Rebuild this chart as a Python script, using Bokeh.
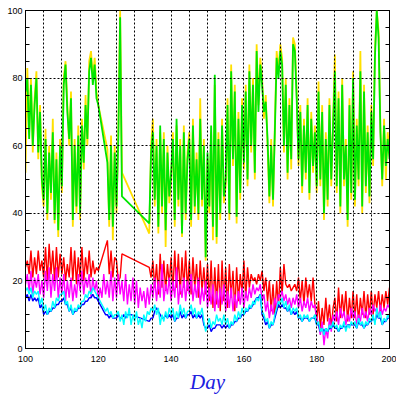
from bokeh.plotting import figure
from bokeh.models import Range1d, SingleIntervalTicker, LinearAxis
from bokeh.embed import file_html
from bokeh.resources import INLINE

N = None
day_start = 100
day_step = 0.5

green = [
    76, 80, 62, 78, 60, 72, 80, 58, 70, 50,
    44, 62, 40, 58, 46, 64, 38, 56, 35, 60,
    48, 78, 84, 70, 62, 74, 38, 60, 42, 63,
    40, 66, 55, 72, 62, 82, 86, 78, 84, 74,
    72, N, N, N, N, 55, 38, 60, 36, 58,
    42, 62, 98, 45, N, N, N, N, N, N,
    N, N, N, N, N, N, N, N, 37, 58,
    64, 44, 60, 36, 66, 42, 62, 35, 58, 45,
    52, 62, 38, 68, 44, 60, 34, 64, 40, 56,
    62, 38, 66, 42, 56, 40, 68, 44, 60, 27,
    58, 42, 66, 36, 81, 33, 62, 40, 66, 45,
    50, 72, 40, 82, 56, 76, 39, 68, 46, 72,
    55, 76, 50, 82, 60, 78, 52, 88, 70, 84,
    78, 70, 73, 62, 45, 60, 44, 64, 86, 80,
    88, 84, 60, 78, 52, 72, 56, 90, 88, 74,
    56, 70, 48, 66, 52, 72, 46, 68, 54, 64,
    48, 76, 50, 70, 40, 62, 44, 72, 50, 66,
    82, 48, 74, 42, 78, 50, 60, 38, 72, 46,
    80, 44, 66, 50, 82, 42, 76, 48, 64, 45,
    70, 56, 86, 100, 92, 64, 50, 66, 54, 62,
    56,
]

yellow = [
    52, 83, 64, 80, 58, 74, 82, 56, 72, 48,
    42, 65, 38, 60, 44, 68, 37, 58, 33, 62,
    46, 80, 85, 72, 60, 76, 36, 62, 40, 66,
    38, 68, 53, 75, 60, 85, 88, 80, 86, 76,
    72, N, N, N, N, 59, 36, 63, 32, 60,
    40, 64, 100, 52, N, N, N, N, N, N,
    N, N, N, N, N, N, N, N, 34, 60,
    68, 42, 62, 34, 64, 40, 64, 30, 60, 43,
    50, 64, 36, 66, 42, 62, 33, 66, 38, 58,
    64, 36, 68, 40, 58, 38, 74, 42, 62, 26,
    56, 40, 64, 32, 78, 31, 64, 38, 68, 43,
    48, 74, 38, 84, 54, 78, 37, 70, 44, 74,
    53, 78, 48, 84, 58, 80, 50, 90, 72, 86,
    80, 68, 75, 60, 43, 62, 42, 66, 88, 82,
    90, 86, 58, 80, 50, 74, 53, 92, 90, 76,
    54, 72, 46, 68, 50, 74, 44, 70, 52, 66,
    46, 79, 48, 72, 38, 64, 42, 74, 48, 68,
    87, 46, 76, 40, 80, 48, 62, 36, 74, 44,
    82, 42, 68, 48, 88, 40, 78, 46, 66, 43,
    72, 54, 88, 100, 94, 66, 48, 68, 50, 64,
    58,
]

red = [
    24, 26, 22, 29, 21, 27, 22, 29, 23, 26,
    21, 30, 20, 31, 22, 29, 20, 30, 21, 28,
    22, 27, 20, 25, 21, 30, 20, 29, 19, 27,
    21, 30, 20, 27, 22, 29, 21, 26, 22, 24,
    23, N, N, N, N, 32, 22, 29, 21, 27,
    26, 20, 21, 28, N, N, N, N, N, N,
    N, N, N, N, N, N, N, N, 24, 21,
    26, 18, 25, 16, 28, 18, 26, 17, 25, 19,
    27, 17, 29, 18, 28, 16, 27, 18, 29, 17,
    26, 16, 27, 18, 25, 15, 26, 17, 24, 16,
    25, 14, 26, 12, 24, 13, 25, 11, 26, 14,
    24, 12, 25, 15, 23, 11, 24, 14, 22, 16,
    26, 15, 24, 18, 22, 20, 21, 19, 22, 20,
    23, 17, 21, 14, 20, 11, 19, 10, 20, 12,
    24, 16, 25, 19, 18, 19, 17, 18, 19, 17,
    21, 14, 20, 13, 21, 15, 19, 14, 21, 13,
    8, 14, 6, 12, 7, 15, 8, 13, 6, 12,
    15, 8, 18, 9, 16, 10, 17, 8, 15, 9,
    17, 9, 16, 8, 15, 10, 17, 9, 16, 10,
    17, 10, 16, 12, 17, 11, 16, 12, 17, 13,
    18,
]

magenta = [
    19, 22, 17, 23, 16, 21, 18, 22, 16, 20,
    15, 23, 17, 24, 15, 22, 17, 24, 15, 21,
    16, 22, 14, 20, 15, 21, 14, 19, 15, 22,
    17, 23, 16, 21, 18, 22, 15, 21, 17, 20,
    14, 18, 15, 22, 16, 20, 15, 23, 14, 21,
    15, 22, 16, 20, 14, 22, 13, 19, 14, 21,
    13, 20, 12, 18, 14, 17, 12, 18, 13, 19,
    15, 21, 14, 20, 15, 25, 14, 19, 16, 21,
    14, 20, 15, 24, 13, 19, 15, 21, 14, 20,
    16, 22, 14, 19, 15, 21, 13, 18, 14, 20,
    12, 18, 13, 19, 11, 17, 12, 18, 13, 19,
    11, 17, 12, 18, 11, 16, 12, 17, 13, 18,
    12, 17, 14, 18, 15, 19, 16, 18, 17, 19,
    14, 16, 11, 14, 9, 13, 10, 15, 12, 16,
    15, 17, 14, 16, 13, 15, 12, 15, 13, 16,
    12, 15, 11, 14, 12, 15, 11, 14, 12, 13,
    9, 7, 4, 8, 1, 6, 3, 9, 5, 10,
    8, 11, 7, 12, 9, 11, 7, 10, 8, 12,
    9, 11, 7, 10, 8, 12, 9, 11, 8, 12,
    10, 13, 11, 12, 9, 13, 10, 12, 11, 13,
    12,
]

blue = [
    15, 16, 14, 16, 14, 15, 14, 15, 12, 13,
    10, 11, 10, 11, 11, 12, 12, 13, 13, 14,
    14, 15, 13, 13, 11, 12, 10, 11, 11, 12,
    12, 13, 13, 14, 14, 15, 15, 16, 15, 15,
    14, 13, 12, 11, 10, 10, 9, 10, 9, 9,
    9, 10, 9, 9, 10, 9, 10, 10, 10, N,
    N, N, N, N, N, N, N, N, 8, 9,
    9, 11, 12, 11, 10, 9, 9, 10, 9, 10,
    9, 10, 8, 9, 9, 11, 9, 10, 9, 10,
    10, 11, 9, 10, 9, 10, 9, 10, 7, 6,
    6, 7, 5, 6, 6, 7, 7, 7, 6, 7,
    6, 7, 6, 7, 7, 8, 8, 9, 9, 10,
    10, 11, 11, 12, 12, 13, 14, 15, 15, 16,
    10, 9, 7, 8, 6, 7, 7, 9, 11, 13,
    12, 13, 12, 12, 11, 12, 10, 11, 10, 11,
    9, 9, 8, 9, 9, 9, 8, 9, 9, 9,
    7, 7, 5, 6, 5, 6, 5, 6, 6, 7,
    6, 6, 5, 6, 6, 7, 6, 7, 7, 7,
    7, 7, 6, 8, 7, 7, 6, 7, 7, 8,
    8, 9, 8, 10, 9, 9, 7, 8, 8, 9,
    9,
]

cyan = [
    17, 18, 16, 18, 15, 17, 16, 17, 13, 15,
    11, 13, 10, 12, 11, 14, 12, 15, 14, 16,
    16, 17, 13, 14, 11, 13, 10, 12, 11, 13,
    12, 14, 14, 16, 15, 17, 16, 18, 17, 16,
    15, 14, 13, 12, 11, 12, 10, 11, 9, 10,
    10, 11, 8, 10, 7, 11, 9, 12, 7, 10,
    8, 11, 7, 9, 6, 10, 8, 11, 10, 12,
    11, 13, 10, 12, 7, 10, 8, 11, 9, 12,
    10, 12, 8, 11, 9, 13, 10, 12, 9, 11,
    11, 13, 10, 12, 9, 11, 10, 12, 8, 5,
    7, 9, 6, 8, 7, 10, 8, 9, 7, 10,
    7, 9, 6, 8, 7, 10, 8, 11, 9, 12,
    10, 12, 11, 13, 12, 14, 13, 15, 14, 16,
    11, 10, 8, 9, 6, 8, 7, 10, 12, 14,
    13, 15, 12, 14, 11, 13, 10, 12, 11, 12,
    9, 10, 8, 10, 9, 10, 8, 9, 9, 10,
    7, 8, 5, 6, 4, 6, 5, 7, 6, 8,
    6, 7, 5, 7, 6, 8, 5, 7, 6, 8,
    7, 8, 6, 9, 7, 8, 6, 8, 7, 9,
    8, 10, 7, 12, 9, 11, 7, 9, 8, 10,
    9,
]

series = [
    (yellow, "#FFE000", 1.8),
    (green, "#00E600", 1.8),
    (red, "#FF0000", 1.4),
    (magenta, "#FF00FF", 1.4),
    (blue, "#0000FF", 1.4),
    (cyan, "#00FFFF", 1.4),
]

p = figure(width=396, height=396, x_range=Range1d(100, 200), y_range=Range1d(0, 100),
           output_backend="svg", toolbar_location=None,
           min_border_left=25, min_border_right=7, min_border_top=10, min_border_bottom=46)
p.background_fill_color = "white"
p.border_fill_color = "white"
p.outline_line_color = "black"
p.outline_line_alpha = 1.0

for vals, col, lw in series:
    xs = [day_start + day_step * i for i, v in enumerate(vals) if v is not None]
    ys = [v for v in vals if v is not None]
    p.line(xs, ys, line_color=col, line_width=lw)

# axes
p.xaxis.ticker = SingleIntervalTicker(interval=20, num_minor_ticks=4)
p.xaxis.major_tick_in = 0
p.xaxis.major_tick_out = 0
p.xaxis.minor_tick_in = 0
p.xaxis.minor_tick_out = 0
p.xaxis.axis_line_color = "black"
p.xaxis.major_label_standoff = 7
p.xaxis.major_label_text_font = "Liberation Sans"
p.xaxis.major_label_text_font_size = "9px"
p.xaxis.major_label_text_color = "black"
p.xaxis.axis_label = "Day"
p.xaxis.axis_label_text_font = "Liberation Serif"
p.xaxis.axis_label_text_font_style = "italic"
p.xaxis.axis_label_text_font_size = "21px"
p.xaxis.axis_label_text_color = "#2020E0"
p.xaxis.axis_label_standoff = 5

p.yaxis.ticker = SingleIntervalTicker(interval=20, num_minor_ticks=4)
p.yaxis.major_tick_in = 6
p.yaxis.major_tick_out = 0
p.yaxis.minor_tick_in = 4
p.yaxis.minor_tick_out = 0
p.yaxis.axis_line_color = "black"
p.yaxis.major_label_standoff = 3
p.yaxis.major_label_text_font = "Liberation Sans"
p.yaxis.major_label_text_font_size = "9px"
p.yaxis.major_label_text_color = "black"

ry = LinearAxis(ticker=SingleIntervalTicker(interval=20, num_minor_ticks=4),
                major_tick_in=6, major_tick_out=0, minor_tick_in=4, minor_tick_out=0,
                major_label_overrides={0: "", 20: "", 40: "", 60: "", 80: "", 100: ""},
                major_label_standoff=0, axis_line_color="black")
p.add_layout(ry, "right")

p.xgrid.ticker = SingleIntervalTicker(interval=5, num_minor_ticks=0)
p.ygrid.ticker = SingleIntervalTicker(interval=20, num_minor_ticks=0)
for g in (p.xgrid, p.ygrid):
    g.grid_line_color = "black"
    g.grid_line_dash = "2 2"
    g.grid_line_width = 1
    g.grid_line_alpha = 1.0
    g.level = "overlay"

open("out.html", "w").write(file_html(p, INLINE))
